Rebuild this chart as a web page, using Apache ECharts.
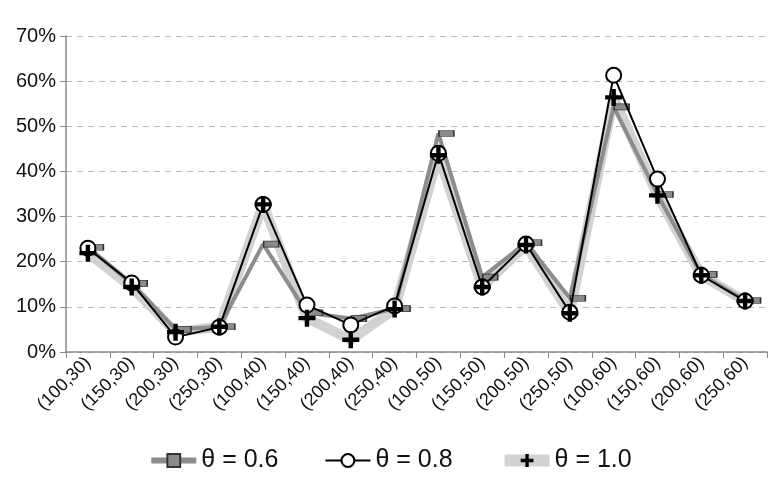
<!DOCTYPE html>
<html>
<head>
<meta charset="utf-8">
<script src="https://cdn.jsdelivr.net/npm/echarts@6/dist/echarts.min.js"></script>
<style>
  html,body{margin:0;padding:0;background:#fff;}
  #chart{width:780px;height:480px;}
</style>
</head>
<body>
<div id="chart"></div>
<script>
(function(){
  // ===== Dados (em %) =====
  const categories = ['(100,30)','(150,30)','(200,30)','(250,30)','(100,40)','(150,40)','(200,40)','(250,40)',
                      '(100,50)','(150,50)','(200,50)','(250,50)','(100,60)','(150,60)','(200,60)','(250,60)'];
  const theta06 = [23.2, 15.2, 5.0, 5.6, 23.9, 8.7, 7.4, 9.6, 48.4, 16.6, 24.2, 11.9, 54.3, 34.9, 17.2, 11.4];
  const theta08 = [23.0, 15.3, 3.3, 5.5, 32.7, 10.4, 6.0, 10.2, 44.0, 14.4, 23.9, 8.8, 61.3, 38.3, 17.0, 11.3];
  const theta10 = [21.9, 14.4, 4.4, 5.6, 32.7, 7.5, 2.7, 9.5, 43.6, 14.4, 23.7, 8.6, 56.4, 34.7, 17.0, 11.3];
  const yTicks = [0, 10, 20, 30, 40, 50, 60, 70];

  const FONT = "'Liberation Sans', Arial, sans-serif";
  const PLUS = 'path://M-1.3,-5 H1.3 V-1.3 H5 V1.3 H1.3 V5 H-1.3 V1.3 H-5 V-1.3 H-1.3 Z';

  const chart = echarts.init(document.getElementById('chart'), null, {renderer:'canvas'});

  chart.setOption({
    animation:false,
    grid:{left:66, right:13, top:36, bottom:128, containLabel:false},
    legend:{
      bottom:2, left:'center', itemWidth:45, itemHeight:16, itemGap:46,
      data:[
        {name:'θ = 0.6', lineStyle:{width:6}},
        {name:'θ = 0.8', lineStyle:{width:2}},
        {name:'θ = 1.0', lineStyle:{width:12}}
      ],
      textStyle:{fontFamily:FONT, fontSize:25, color:'#111'}
    },
    xAxis:{
      type:'category', data:categories, boundaryGap:true,
      axisLine:{lineStyle:{color:'#8a8a8a', width:1.5}},
      axisTick:{show:true, length:6, lineStyle:{color:'#8a8a8a'}},
      axisLabel:{rotate:45, margin:8, fontFamily:FONT, fontSize:18, color:'#111'}
    },
    yAxis:{
      type:'value', min:yTicks[0], max:yTicks[yTicks.length-1], interval:10,
      axisLine:{show:true, lineStyle:{color:'#8a8a8a', width:1.5}},
      axisTick:{show:true, length:6, lineStyle:{color:'#8a8a8a'}},
      axisLabel:{formatter:'{value}%', margin:10, fontFamily:FONT, fontSize:20, color:'#111'},
      splitLine:{lineStyle:{color:'#b8b8b8', type:[6,5], width:1}}
    },
    series:[
      {name:'θ = 1.0', type:'line', data:theta10, z:2,
       symbol:PLUS, symbolSize:17, showSymbol:false,
       itemStyle:{color:'#000'},
       lineStyle:{color:'#d2d2d2', width:10, join:'round'}},
      {name:'θ = 0.6', type:'line', data:theta06, z:3,
       symbol:'rect', symbolSize:[15,6], symbolOffset:[8,0],
       itemStyle:{color:'#8a8a8a', borderColor:'#333', borderWidth:1},
       lineStyle:{color:'#8c8c8c', width:4}},
      {name:'θ = 0.8', type:'line', data:theta08, z:4,
       symbol:'circle', symbolSize:15,
       itemStyle:{color:'#fff', borderColor:'#000', borderWidth:2},
       lineStyle:{color:'#000', width:2}},
      // marcadores "+" por cima
      {name:'θ = 1.0', type:'line', data:theta10, z:5,
       symbol:PLUS, symbolSize:17,
       itemStyle:{color:'#000'},
       lineStyle:{width:0, opacity:0}}
    ]
  });
})();
</script>
</body>
</html>
